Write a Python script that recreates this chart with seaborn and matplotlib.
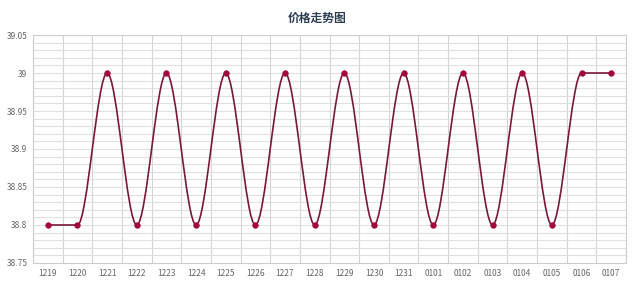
import matplotlib
matplotlib.use("Agg")
import matplotlib.pyplot as plt
from matplotlib.path import Path
from matplotlib.patches import PathPatch
from matplotlib.ticker import MultipleLocator, FixedLocator, FuncFormatter
import seaborn as sns
import pandas as pd
import numpy as np

dates = ["1219", "1220", "1221", "1222", "1223", "1224", "1225", "1226", "1227", "1228",
         "1229", "1230", "1231", "0101", "0102", "0103", "0104", "0105", "0106", "0107"]
prices = [38.8, 38.8, 39, 38.8, 39, 38.8, 39, 38.8, 39, 38.8,
          39, 38.8, 39, 38.8, 39, 38.8, 39, 38.8, 39, 39]
title = "价格走势图"

sns.set_style("white")
plt.rcParams['font.family'] = ['Noto Sans CJK SC', 'DejaVu Sans']

df = pd.DataFrame({"pos": np.arange(len(dates)), "date": dates, "price": prices})

fig = plt.figure(figsize=(6.4, 2.83), dpi=100)
ax = fig.add_axes([0.0516, 0.0707, 0.9265, 0.8056])

line_color = "#7a1838"
marker_color = "#a3073d"

# smooth curve: cubic Bezier with horizontal tangents at each data point
verts = [(df.pos[0], df.price[0])]
codes = [Path.MOVETO]
for i in range(len(df) - 1):
    x0, y0 = df.pos[i], df.price[i]
    x1, y1 = df.pos[i + 1], df.price[i + 1]
    verts += [(x0 + (x1 - x0) / 3, y0), (x0 + 2 * (x1 - x0) / 3, y1), (x1, y1)]
    codes += [Path.CURVE4, Path.CURVE4, Path.CURVE4]
patch = PathPatch(Path(verts, codes), facecolor="none", edgecolor=line_color, lw=1.2, zorder=3)
ax.add_patch(patch)

sns.scatterplot(data=df, x="pos", y="price", ax=ax, color=marker_color, s=16,
                edgecolor=marker_color, linewidth=0.5, zorder=4, legend=False)

ax.set_xlim(-0.5, len(dates) - 0.5)
ax.set_ylim(38.75, 39.05)
ax.set_xticks(df.pos)
ax.set_xticklabels(dates)
ax.xaxis.set_minor_locator(FixedLocator(np.arange(-0.5, len(dates), 1.0)))
ax.yaxis.set_major_locator(MultipleLocator(0.05))
ax.yaxis.set_minor_locator(MultipleLocator(0.01))
ax.yaxis.set_major_formatter(FuncFormatter(lambda v, p: f"{v:g}"))

ax.grid(False)
ax.grid(which="minor", axis="x", color="#d4d4d4", lw=0.8)
ax.grid(which="both", axis="y", color="#e0e0e0", lw=0.8)
ax.set_axisbelow(True)

ax.tick_params(which="both", length=0, labelsize=6, labelcolor="#666666", pad=4)
ax.set_xlabel("")
ax.set_ylabel("")
for s in ax.spines.values():
    s.set_color("#cccccc")
    s.set_linewidth(0.8)

fig.text(0.495, 0.935, title, ha="center", va="center", fontsize=8.5,
         fontweight="bold", color="#2c3e50")

fig.savefig("out.png", dpi=100)
